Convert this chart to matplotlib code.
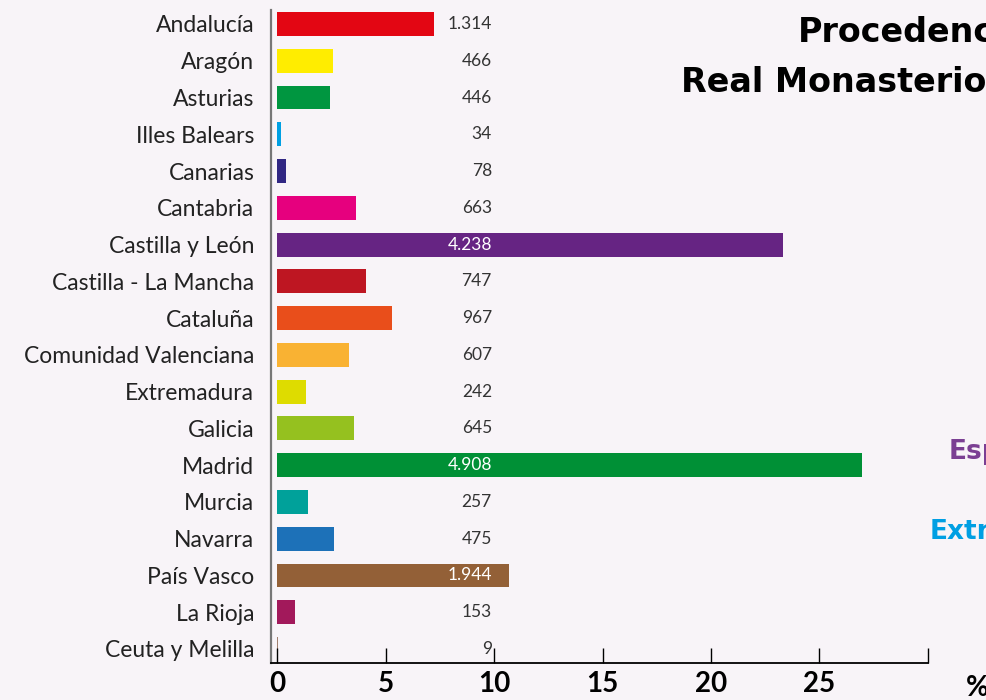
import numpy as np
import matplotlib.pyplot as plt

# Datos
regiones = ['Andalucía', 'Aragón', 'Asturias', 'Illes Balears', 'Canarias', 'Cantabria',
            'Castilla y León', 'Castilla - La Mancha', 'Cataluña', 'Comunidad Valenciana',
            'Extremadura', 'Galicia', 'Madrid', 'Murcia', 'Navarra', 'País Vasco',
            'La Rioja', 'Ceuta y Melilla']
visitantes = [1314, 466, 446, 34, 78, 663, 4238, 747, 967, 607, 242, 645, 4908, 257,
              475, 1944, 153, 9]
colores = ['#E30613', '#FFED00', '#009640', '#00A0E3', '#312783', '#E6007E',
           '#662483', '#BE1622', '#E94E1B', '#F9B233', '#DEDC00', '#95C11F',
           '#009036', '#00A19A', '#1D71B8', '#936037', '#A2195B', '#A08070']
ticks_x = [0, 5, 10, 15, 20, 25, 30]
ticks_etiquetas = ['0', '5', '10', '15', '20', '25', '']

fondo = '#F8F4F8'
plt.rcParams['font.family'] = ['Lato', 'DejaVu Sans']

porcentaje = np.array(visitantes) / sum(visitantes) * 100
y = np.arange(len(regiones))

fig = plt.figure(figsize=(9.87, 7.0), dpi=100, facecolor=fondo)
ax = fig.add_axes([0.2746, 0.0529, 0.9402 - 0.2746, 0.9857 - 0.0529])
ax.set_facecolor(fondo)

ax.barh(y, porcentaje, height=0.65, color=colores, left=0)

# Etiquetas con el número de visitantes
for i, v in enumerate(visitantes):
    etiqueta = f'{v:,}'.replace(',', '.')
    color = 'white' if porcentaje[i] > 10 else '#333333'
    ax.text(9.9, i, etiqueta, ha='right', va='center', fontsize=12.5,
            fontweight='normal', color=color)

ax.set_xlim(-0.28, 30)
ax.set_ylim(len(regiones) - 1 + 0.38, -0.38)
ax.set_yticks(y)
ax.set_yticklabels(regiones, fontsize=16.5, color='#222222')
ax.tick_params(axis='y', length=0, pad=12)
ax.set_xticks(ticks_x)
ax.set_xticklabels(ticks_etiquetas, fontsize=20, fontweight='bold')
ax.tick_params(axis='x', direction='in', length=11, width=1, color='black', pad=6)

for lado in ['top', 'right']:
    ax.spines[lado].set_visible(False)
ax.spines['left'].set_color('#777777')
ax.spines['left'].set_linewidth(1.6)
ax.spines['bottom'].set_color('black')
ax.spines['bottom'].set_linewidth(1.3)

# Textos (recortados por el borde derecho, como en el original)
titulo = dict(ha='left', va='center', fontsize=24, fontweight='bold', color='black',
              family=['DejaVu Sans'])
fig.text(798 / 987, 1 - 33 / 700, 'Procedencia', **titulo)
fig.text(681 / 987, 1 - 83 / 700, 'Real Monasterio', **titulo)
lateral = dict(ha='left', va='center', fontsize=19, fontweight='bold',
               family=['DejaVu Sans'])
fig.text(949 / 987, 1 - 452 / 700, 'España', color='#7B3F93', **lateral)
fig.text(930 / 987, 1 - 532 / 700, 'Extranjero', color='#009FE3', **lateral)
fig.text(966 / 987, 1 - 688 / 700, '%', ha='left', va='center',
         fontsize=20, fontweight='bold', color='black')

fig.savefig('out.png', dpi=100, facecolor=fondo)
